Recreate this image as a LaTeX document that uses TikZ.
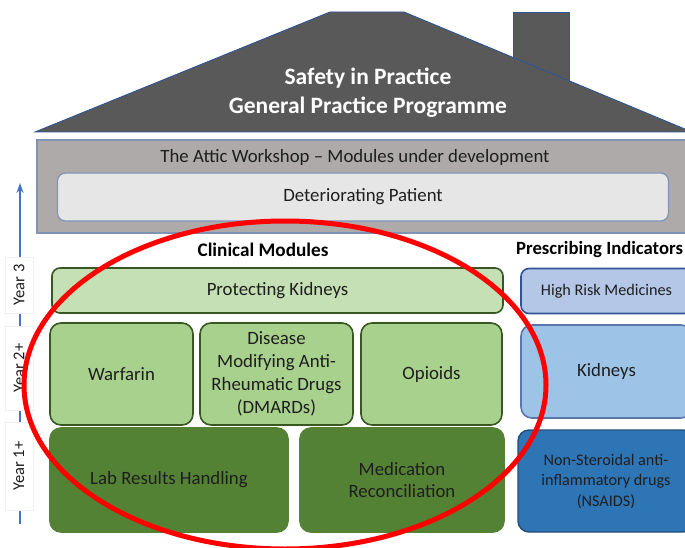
\documentclass[tikz,border=0pt]{standalone}
\usepackage{fontspec}
\setmainfont{Carlito}
\usepackage{xcolor}
\usepackage{tikz}
\usetikzlibrary{arrows.meta}

\definecolor{roofgray}{HTML}{595959}
\definecolor{roofblue}{HTML}{2F5597}
\definecolor{atticgray}{HTML}{AEAAAA}
\definecolor{atticline}{HTML}{7F93B5}
\definecolor{detgray}{HTML}{E7E6E6}
\definecolor{txt}{HTML}{1E1E1E}
\definecolor{greenA}{HTML}{C5E0B4}
\definecolor{greenB}{HTML}{A9D18E}
\definecolor{greenC}{HTML}{548235}
\definecolor{greenline}{HTML}{385723}
\definecolor{blueA}{HTML}{B4C7E7}
\definecolor{blueB}{HTML}{9DC3E6}
\definecolor{blueC}{HTML}{2E75B6}
\definecolor{blueline}{HTML}{2F5597}
\definecolor{bluedark}{HTML}{1F4E79}
\definecolor{axisblue}{HTML}{4472C4}

\begin{document}
\begin{tikzpicture}[x=1pt, y=-1pt,
    box/.style={draw, rounded corners=11pt, line width=1.6pt, align=center, text=txt,
        inner sep=0pt, font=\fontsize{18.8}{22.8}\selectfont},
    thinbox/.style={box, rounded corners=8pt, minimum height=45pt},
    smalltext/.style={font=\fontsize{16.2}{20.5}\selectfont},
    head/.style={font=\fontsize{19.2}{22}\selectfont\bfseries, text=black},
    yearlabel/.style={rotate=90, fill=white, draw=gray!12, text=txt, inner sep=0pt,
        minimum height=28pt, font=\fontsize{16.5}{20}\selectfont},
    ring/.style={draw=red, line width=5pt}]
    \useasboundingbox (0,0) rectangle (685,548);
    \clip (0,0) rectangle (685,548);

    % Roof and chimney
    \draw [fill=roofgray, draw=roofblue, line width=0.9pt] (513,12) rectangle (569,95);
    \draw [fill=roofgray, draw=roofblue, line width=0.9pt]
        (35,132) -- (330,12) -- (404,12) -- (692,132) -- cycle;
    \node (title) [align=center, text=white, font=\fontsize{23.5}{29}\selectfont\bfseries]
        at (368,93) {Safety in Practice\\General Practice Programme};

    % Attic
    \node (attic) [draw=atticline, fill=atticgray, line width=1.2pt, minimum width=663pt,
        minimum height=93pt, inner sep=0pt] at (368.5,186.5) {};
    \node (attictitle) [text=txt, font=\fontsize{18.8}{22}\selectfont] at (355,157)
        {The Attic Workshop -- Modules under development};
    \node (det) [box, draw=atticline, fill=detgray, line width=1.2pt, rounded corners=8pt,
        minimum width=611pt, minimum height=48pt] at (363,197) {Deteriorating Patient};

    % Year axis
    \coordinate (axisbot) at (20,524);
    \coordinate (axistop) at (20,183);
    \draw [axisblue, line width=1.8pt, -{Stealth[length=10pt, width=7pt]}] (axisbot) -- (axistop);
    \node (y3) [yearlabel, minimum width=56pt] at (19,285) {Year 3};
    \node (y2) [yearlabel, minimum width=84pt] at (19,368) {Year 2+};
    \node (y1) [yearlabel, minimum width=88pt] at (19,466) {Year 1+};

    % Headings
    \node (clin) [head] at (263,250) {Clinical Modules};
    \node (presc) [head, font=\fontsize{18.7}{22}\selectfont\bfseries, anchor=west, inner sep=0pt]
        at (516,250) {Prescribing Indicators};

    % Year 3
    \node (prot) [thinbox, draw=greenline, fill=greenA, minimum width=451pt]
        at (277.5,290.5) {Protecting Kidneys};
    \node (highrisk) [thinbox, smalltext, draw=blueline, fill=blueA, minimum width=171pt]
        at (606.5,291) {High Risk Medicines};

    % Year 2+
    \node (warf) [box, draw=greenline, fill=greenB, minimum width=143pt, minimum height=102pt]
        at (121.5,374) {Warfarin};
    \node (dmard) [box, draw=greenline, fill=greenB, minimum width=153pt, minimum height=102pt]
        at (276.5,374) {Disease\\Modifying Anti-\\Rheumatic Drugs\\(DMARDs)};
    \node (opio) [box, draw=greenline, fill=greenB, minimum width=141pt, minimum height=102pt]
        at (431.5,374) {Opioids};
    \node (kid) [box, draw=blueline!80, fill=blueB, minimum width=171pt, minimum height=93pt]
        at (606.5,371.5) {Kidneys};

    % Year 1+
    \node (lab) [box, draw=greenC, fill=greenC, minimum width=238pt, minimum height=104pt]
        at (169,480) {Lab Results Handling};
    \node (medrec) [box, draw=greenC, fill=greenC, minimum width=204pt, minimum height=104pt]
        at (402,480) {Medication\\Reconciliation};
    \node (nsaids) [box, smalltext, draw=bluedark, fill=blueC, line width=1.4pt,
        minimum width=176pt, minimum height=102pt]
        at (606,481) {Non-Steroidal anti-\\inflammatory drugs\\(NSAIDS)};

    % Clinical modules ring
    \draw [ring] (285,385) ellipse [x radius=261, y radius=164];
\end{tikzpicture}
\end{document}
